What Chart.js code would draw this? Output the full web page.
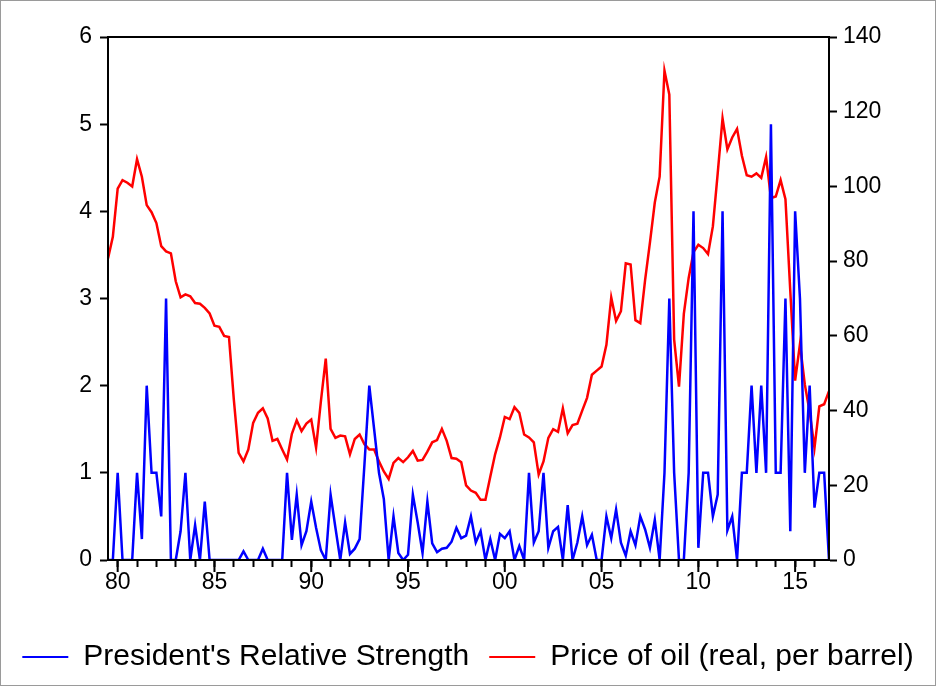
<!DOCTYPE html>
<html>
<head>
<meta charset="utf-8">
<script src="https://cdn.jsdelivr.net/npm/chart.js@4.4.0/dist/chart.umd.min.js"></script>
<style>
  html, body { margin: 0; padding: 0; background: #fff; }
  #wrap { width: 936px; height: 686px; }
</style>
</head>
<body>
<div id="wrap"><canvas id="chart" width="936" height="686"></canvas></div>
<script>
// Quarterly series, 1979Q3 - 2016Q4
const firstYear = 1979, firstQuarter = 3;

// President's relative strength (left axis)
const strength = [
  0, 0, 1, 0, 0, 0, 1, 0.24, 2, 1,
  1, 0.5, 3, 0, 0, 0.33, 1, 0, 0.4, 0,
  0.67, 0, 0, 0, 0, 0, 0, 0, 0.1, 0,
  0, 0, 0.13, 0, 0, 0, 0, 1, 0.23, 0.75,
  0.17, 0.33, 0.67, 0.37, 0.11, 0, 0.75, 0.37, 0, 0.43,
  0.07, 0.13, 0.24, 1.1, 2, 1.5, 1, 0.7, 0, 0.5,
  0.08, 0, 0.06, 0.75, 0.43, 0.08, 0.67, 0.19, 0.09, 0.13,
  0.14, 0.21, 0.37, 0.25, 0.28, 0.5, 0.2, 0.33, 0, 0.24,
  0, 0.3, 0.25, 0.33, 0, 0.16, 0, 1, 0.2, 0.33,
  1, 0.14, 0.33, 0.38, 0, 0.63, 0, 0.2, 0.5, 0.17,
  0.29, 0, 0, 0.5, 0.25, 0.58, 0.2, 0.05, 0.33, 0.17,
  0.5, 0.35, 0.14, 0.46, 0, 1, 3, 1, 0, 0,
  1, 4, 0.14, 1, 1, 0.5, 0.75, 4, 0.34, 0.5,
  0, 1, 1, 2, 1, 2, 1, 5, 1, 1,
  3, 0.33, 4, 3, 1, 2, 0.6, 1, 1, 0
];

// Price of oil, real, per barrel (right axis)
const oilPrice = [
  80.7, 86.5, 99.4, 101.7, 101, 100, 107.3, 102.6, 95, 93.1,
  90.2, 84, 82.6, 82.1, 74.6, 70.3, 71.1, 70.6, 68.8, 68.6,
  67.5, 66, 62.7, 62.4, 60, 59.7, 43, 28.7, 26.4, 29.6,
  36.7, 39.4, 40.6, 37.9, 31.9, 32.4, 29.6, 26.9, 33.8, 37.4,
  34.5, 36.5, 37.6, 30.1, 42.5, 53.9, 35.1, 32.7, 33.3, 33.1,
  28.3, 32.4, 33.6, 31, 29.6, 29.6, 26.4, 23.7, 21.7, 26,
  27.3, 26.2, 27.5, 29.2, 26.6, 26.8, 29, 31.5, 32.1, 35.1,
  31.9, 27.3, 27.1, 26.2, 20, 18.6, 18, 16.1, 16.1, 22.3,
  28.3, 32.8, 38.3, 37.7, 40.9, 39.4, 33.6, 32.8, 31.5, 22.9,
  26.4, 32.7, 35, 34.3, 40.6, 33.9, 36.1, 36.5, 40, 43.4,
  49.6, 50.7, 51.8, 57.6, 70.3, 64, 66.6, 79.4, 79.1, 64.2,
  63.4, 75, 85, 95.7, 102.6, 131, 124.6, 59, 46.4, 65.9,
  75.5, 82.4, 84.4, 83.5, 81.9, 89.3, 103.5, 118.2, 109.9, 113.1,
  115.4, 108.2, 103, 102.6, 103.5, 102.3, 107.9, 96.9, 97.3, 101.7,
  96.6, 72, 48, 57.8, 47, 39.7, 30, 41.1, 41.7, 45.2
];

// Axis ticks
const majorYears = [1980, 1985, 1990, 1995, 2000, 2005, 2010, 2015];
const yearLabels = ['80', '85', '90', '95', '00', '05', '10', '15'];
const leftTicks  = [0, 1, 2, 3, 4, 5, 6];
const rightTicks = [0, 20, 40, 60, 80, 100, 120, 140];

const legendNames = ["President's Relative Strength", 'Price of oil (real, per barrel)'];

// Quarter labels for the category axis
const quarters = strength.map((_, i) => {
  const q = firstQuarter - 1 + i;
  return (firstYear + Math.floor(q / 4)) + 'Q' + (q % 4 + 1);
});

const FONT = "'Liberation Sans', Arial, sans-serif";

// White background and thin outer frame
const pageFrame = {
  id: 'pageFrame',
  beforeDraw(chart) {
    const ctx = chart.ctx;
    ctx.save();
    ctx.fillStyle = '#fff';
    ctx.fillRect(0, 0, chart.width, chart.height);
    ctx.strokeStyle = '#9a9a9a';
    ctx.lineWidth = 1;
    ctx.strokeRect(0.5, 0.5, chart.width - 1, chart.height - 1);
    ctx.restore();
  }
};

// Box round the plot and longer ticks at labelled years
const plotBox = {
  id: 'plotBox',
  afterDraw(chart) {
    const {ctx, chartArea: a} = chart;
    const x = chart.scales.x;
    ctx.save();
    ctx.strokeStyle = '#000';
    ctx.lineWidth = 2;
    ctx.strokeRect(a.left, a.top, a.right - a.left, a.bottom - a.top);
    majorYears.forEach(yr => {
      const px = x.getPixelForValue(quarters.indexOf(yr + 'Q1'));
      ctx.beginPath();
      ctx.moveTo(px, a.bottom);
      ctx.lineTo(px, a.bottom + 12);
      ctx.stroke();
    });
    ctx.restore();
  }
};

const ctx = document.getElementById('chart').getContext('2d');
new Chart(ctx, {
  type: 'line',
  data: {
    labels: quarters,
    datasets: [
      { label: legendNames[0], data: strength, yAxisID: 'y',
        borderColor: '#0000ff', backgroundColor: '#0000ff', borderWidth: 2.5,
        pointRadius: 0, tension: 0 },
      { label: legendNames[1], data: oilPrice, yAxisID: 'y1',
        borderColor: '#ff0000', backgroundColor: '#ff0000', borderWidth: 2.5,
        pointRadius: 0, tension: 0 }
    ]
  },
  options: {
    responsive: false,
    devicePixelRatio: 1,
    animation: false,
    layout: { padding: { top: 37, left: 0, right: 0, bottom: 4 } },
    plugins: {
      tooltip: { enabled: false },
      legend: {
        position: 'bottom',
        maxHeight: 60,
        labels: {
          color: '#000',
          font: { family: FONT, size: 30 },
          boxWidth: 46,
          boxHeight: 2,
          padding: 20,
          generateLabels(chart) {
            return Chart.defaults.plugins.legend.labels.generateLabels(chart)
              .map(l => Object.assign(l, { lineWidth: 0 }));
          }
        }
      }
    },
    scales: {
      x: {
        type: 'category',
        offset: false,
        grid: { drawOnChartArea: false, drawTicks: true, tickLength: 7, tickColor: '#000', tickWidth: 2 },
        border: { display: true, color: '#000', width: 2 },
        afterBuildTicks(scale) {
          scale.ticks = scale.ticks.filter(t => quarters[t.value].endsWith('Q1'));
        },
        afterFit(scale) { scale.height = 62; },
        ticks: {
          autoSkip: false,
          maxRotation: 0,
          padding: 2,
          color: '#000',
          font: { family: FONT, size: 23 },
          callback(value) {
            const k = majorYears.indexOf(parseInt(quarters[value], 10));
            return k >= 0 && quarters[value].endsWith('Q1') ? yearLabels[k] : '';
          }
        }
      },
      y: {
        position: 'left',
        min: leftTicks[0],
        max: leftTicks[leftTicks.length - 1],
        afterBuildTicks(scale) { scale.ticks = leftTicks.map(v => ({ value: v })); },
        afterFit(scale) { scale.width = 108; },
        grid: { drawOnChartArea: false, tickLength: 8, tickColor: '#000', tickWidth: 2 },
        border: { display: true, color: '#000', width: 2 },
        ticks: { padding: 8, color: '#000', font: { family: FONT, size: 23 } }
      },
      y1: {
        position: 'right',
        min: rightTicks[0],
        max: rightTicks[rightTicks.length - 1],
        afterBuildTicks(scale) { scale.ticks = rightTicks.map(v => ({ value: v })); },
        afterFit(scale) { scale.width = 107; },
        grid: { drawOnChartArea: false, tickLength: 8, tickColor: '#000', tickWidth: 2 },
        border: { display: true, color: '#000', width: 2 },
        ticks: { padding: 6, color: '#000', font: { family: FONT, size: 23 } }
      }
    }
  },
  plugins: [pageFrame, plotBox]
});
</script>
</body>
</html>
